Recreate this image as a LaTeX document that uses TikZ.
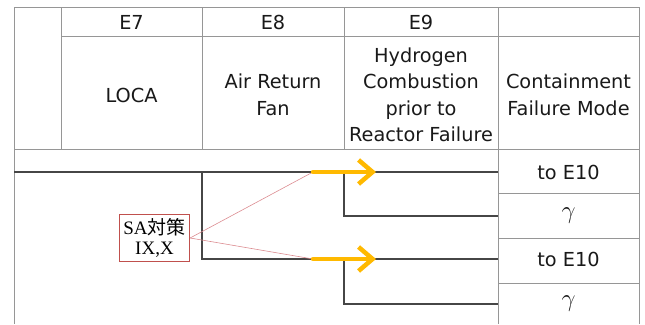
\documentclass[tikz,border=0pt]{standalone}
\usepackage{fontspec}
\setmainfont{DejaVu Sans}
\newfontfamily\serifrm{Liberation Serif}
\newfontfamily\cjk{Noto Sans CJK JP}
\usetikzlibrary{arrows.meta}
\definecolor{gridgray}{RGB}{150,150,150}
\definecolor{treegray}{RGB}{70,70,70}
\definecolor{amber}{RGB}{255,185,0}
\definecolor{boxred}{RGB}{192,80,77}
\definecolor{linkpink}{RGB}{220,140,145}
\begin{document}
\begin{tikzpicture}[x=1pt, y=-1pt,
    tblline/.style={draw=gridgray, line width=0.8pt},
    tree/.style={draw=treegray, line width=1.1pt},
    head/.style={font=\fontsize{19.3}{26.5}\selectfont, align=center, text=black!90, inner sep=0pt},
    gam/.style={head, font=\fontsize{25}{26.5}\selectfont},
    hilite/.style={draw=amber, line width=4.5pt, line cap=round, -{Straight Barb[length=14pt, width=24pt]}},
    link/.style={draw=linkpink, line width=0.6pt},
    sabox/.style={draw=boxred, line width=0.9pt, fill=white, inner xsep=4pt, inner ysep=3.5pt, align=center, font=\fontsize{19}{20.5}\selectfont\serifrm}
]
\useasboundingbox (0,0) rectangle (645,324);

\draw[tblline] (14,7) -- (639,7);
\draw[tblline] (61,36) -- (639,36);
\draw[tblline] (14,149) -- (639,149);
\foreach \y in {193,238,283} \draw[tblline] (498,\y) -- (639,\y);
\foreach \x in {61,202,344} \draw[tblline] (\x,7) -- (\x,149);
\foreach \x in {14,498,639} \draw[tblline] (\x,7) -- (\x,324);

\node[head] (e7) at (131.5,22) {E7};
\node[head] (e8) at (273,22) {E8};
\node[head] (e9) at (421,22) {E9};
\node[head] (loca) at (131.5,95) {LOCA};
\node[head] (arf) at (273,95) {Air Return\\Fan};
\node[head] (hcomb) at (421,95) {Hydrogen\\Combustion\\prior to\\Reactor Failure};
\node[head] (cfm) at (568.5,95) {Containment\\Failure Mode};

\node[head] (end1) at (568.5,172) {to E10};
\node[gam] (end2) at (568.5,216) {$\gamma$};
\node[head] (end3) at (568.5,259) {to E10};
\node[gam] (end4) at (568.5,304) {$\gamma$};

\coordinate (root) at (14,172);
\coordinate (br8) at (202,172);
\coordinate (br9a) at (344,172);
\coordinate (br9b) at (344,259);
\coordinate (out1) at (498,172);
\coordinate (out2) at (498,216);
\coordinate (out3) at (498,259);
\coordinate (out4) at (498,304);
\coordinate (tail1) at (313,172);
\coordinate (tip1) at (376,172);
\coordinate (tail2) at (313,259);
\coordinate (tip2) at (376,259);

\draw[tree] (root) -- (out1);
\draw[tree] (br8) |- (out3);
\draw[tree] (br9a) |- (out2);
\draw[tree] (br9b) |- (out4);

\node[sabox] (sa) at (154.5,238) {SA{\cjk 対策}\\IX,X};
\draw[link] (sa.east) -- (tail1);
\draw[link] (sa.east) -- (tail2);

\draw[hilite] (tail1) -- (tip1);
\draw[hilite] (tail2) -- (tip2);
\end{tikzpicture}
\end{document}
